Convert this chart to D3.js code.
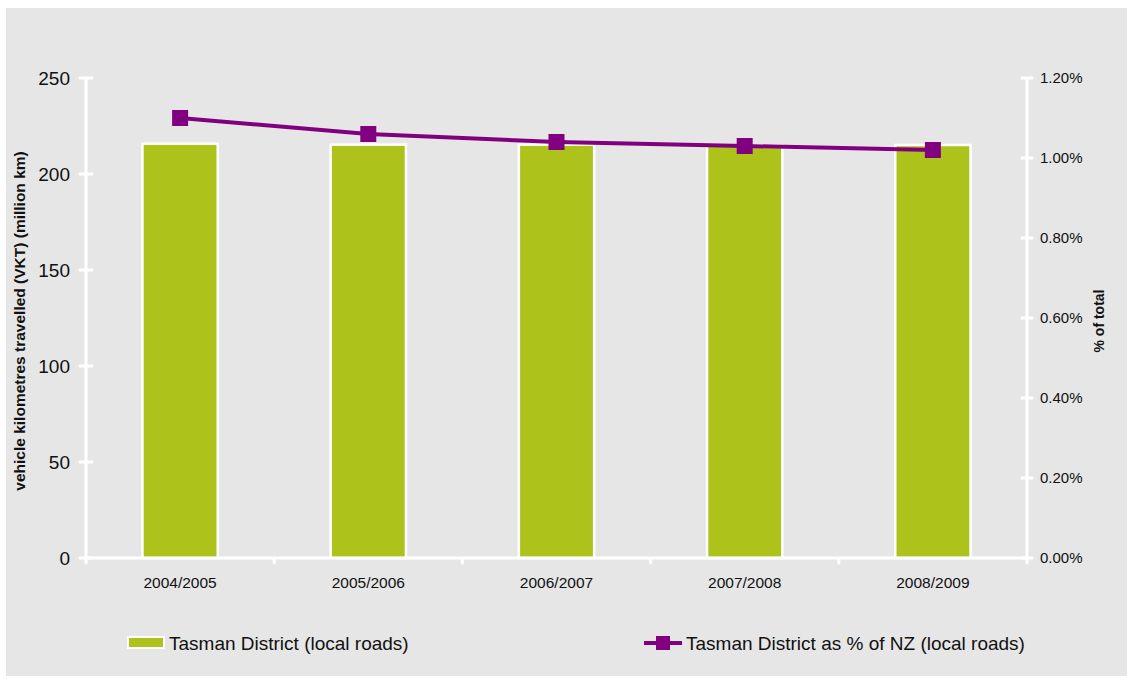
<!DOCTYPE html>
<html>
<head>
<meta charset="utf-8">
<script src="https://cdn.jsdelivr.net/npm/d3@7/dist/d3.min.js"></script>
<style>
  html, body { margin: 0; padding: 0; background: #ffffff; }
  svg { display: block; font-family: "Liberation Sans", Arial, sans-serif; }
</style>
</head>
<body>
<svg id="chart" width="1133" height="682"></svg>
<script>
// Financial years on the x axis
const years = ["2004/2005", "2005/2006", "2006/2007", "2007/2008", "2008/2009"];
// Vehicle kilometres travelled on local roads, million km
const vkt = [215.8, 215.3, 215.3, 215.0, 215.1];
// Share of New Zealand local-road VKT, percent
const sharePct = [1.10, 1.06, 1.04, 1.03, 1.02];
// Axis ticks
const leftTicks = [0, 50, 100, 150, 200, 250];
const rightTicks = [0, 0.2, 0.4, 0.6, 0.8, 1.0, 1.2];

const barColor = "#adc21a";
const lineColor = "#800080";
const panelColor = "#e6e6e6";

const svg = d3.select("#chart");

// panel background
svg.append("rect").attr("x", 6).attr("y", 8).attr("width", 1121).attr("height", 668)
  .attr("fill", panelColor);

const plot = { left: 86, right: 1027, top: 78, bottom: 558 };

const x = d3.scaleBand().domain(years).range([plot.left, plot.right]).paddingInner(0).paddingOuter(0);
const yL = d3.scaleLinear().domain([0, 250]).range([plot.bottom, plot.top]);
const yR = d3.scaleLinear().domain([0, 1.2]).range([plot.bottom, plot.top]);

const barW = x.bandwidth() * 0.4;

// bars
svg.append("g").selectAll("rect").data(years).join("rect")
  .attr("x", d => x(d) + (x.bandwidth() - barW) / 2)
  .attr("y", (d, i) => yL(vkt[i]))
  .attr("width", barW)
  .attr("height", (d, i) => plot.bottom - yL(vkt[i]))
  .attr("fill", barColor)
  .attr("stroke", "#ffffff")
  .attr("stroke-width", 2.5);

// axes (white lines with ticks crossing the line)
const axisG = svg.append("g").attr("stroke", "#ffffff").attr("stroke-width", 3).attr("stroke-linecap", "round");
axisG.append("line").attr("x1", plot.left).attr("x2", plot.left).attr("y1", plot.top).attr("y2", plot.bottom);
axisG.append("line").attr("x1", plot.right).attr("x2", plot.right).attr("y1", plot.top).attr("y2", plot.bottom);
axisG.append("line").attr("x1", plot.left).attr("x2", plot.right).attr("y1", plot.bottom).attr("y2", plot.bottom);

axisG.selectAll(".lt").data(leftTicks).join("line")
  .attr("x1", plot.left - 6).attr("x2", plot.left + 6)
  .attr("y1", d => yL(d)).attr("y2", d => yL(d));
axisG.selectAll(".rt").data(rightTicks).join("line")
  .attr("x1", plot.right - 5).attr("x2", plot.right + 5)
  .attr("y1", d => yR(d)).attr("y2", d => yR(d));
const bounds = years.map(d => x(d)).concat([plot.right]);
axisG.selectAll(".xt").data(bounds).join("line")
  .attr("x1", d => d).attr("x2", d => d)
  .attr("y1", plot.bottom).attr("y2", plot.bottom + 5);

// tick labels
svg.append("g").selectAll("text").data(leftTicks).join("text")
  .attr("x", 70).attr("y", d => yL(d)).attr("dy", "0.35em")
  .attr("text-anchor", "end").attr("font-size", 19).attr("fill", "#111")
  .text(d => d);

const pctFmt = d3.format(".2f");
svg.append("g").selectAll("text").data(rightTicks).join("text")
  .attr("x", 1040).attr("y", d => yR(d)).attr("dy", "0.35em")
  .attr("text-anchor", "start").attr("font-size", 15).attr("fill", "#111")
  .text(d => pctFmt(d) + "%");

svg.append("g").selectAll("text").data(years).join("text")
  .attr("x", d => x(d) + x.bandwidth() / 2).attr("y", 588)
  .attr("text-anchor", "middle").attr("font-size", 15.5).attr("fill", "#111")
  .text(d => d);

// axis titles
svg.append("text")
  .attr("transform", "translate(25,321) rotate(-90)")
  .attr("text-anchor", "middle").attr("font-size", 15.5).attr("font-weight", "bold").attr("fill", "#111")
  .text("vehicle kilometres travelled (VKT) (million km)");
svg.append("text")
  .attr("transform", "translate(1104,321) rotate(-90)")
  .attr("text-anchor", "middle").attr("font-size", 14).attr("font-weight", "bold").attr("fill", "#111")
  .text("% of total");

// percentage line
const cx = d => x(d) + x.bandwidth() / 2;
const line = d3.line().x((d, i) => cx(years[i])).y(d => yR(d));
svg.append("path").datum(sharePct)
  .attr("d", line).attr("fill", "none")
  .attr("stroke", lineColor).attr("stroke-width", 4);
svg.append("g").selectAll("rect").data(sharePct).join("rect")
  .attr("x", (d, i) => cx(years[i]) - 8)
  .attr("y", d => yR(d) - 8)
  .attr("width", 16).attr("height", 16)
  .attr("fill", lineColor);

// legend
const lg = svg.append("g");
lg.append("rect").attr("x", 128).attr("y", 637).attr("width", 36).attr("height", 11)
  .attr("fill", barColor).attr("stroke", "#ffffff").attr("stroke-width", 2);
lg.append("text").attr("x", 169).attr("y", 650).attr("font-size", 19).attr("fill", "#111")
  .text("Tasman District (local roads)");

lg.append("line").attr("x1", 644).attr("x2", 682).attr("y1", 643).attr("y2", 643)
  .attr("stroke", lineColor).attr("stroke-width", 4);
lg.append("rect").attr("x", 656).attr("y", 636).attr("width", 14).attr("height", 14)
  .attr("fill", lineColor);
lg.append("text").attr("x", 686).attr("y", 650).attr("font-size", 19).attr("fill", "#111")
  .text("Tasman District as % of NZ (local roads)");
</script>
</body>
</html>
